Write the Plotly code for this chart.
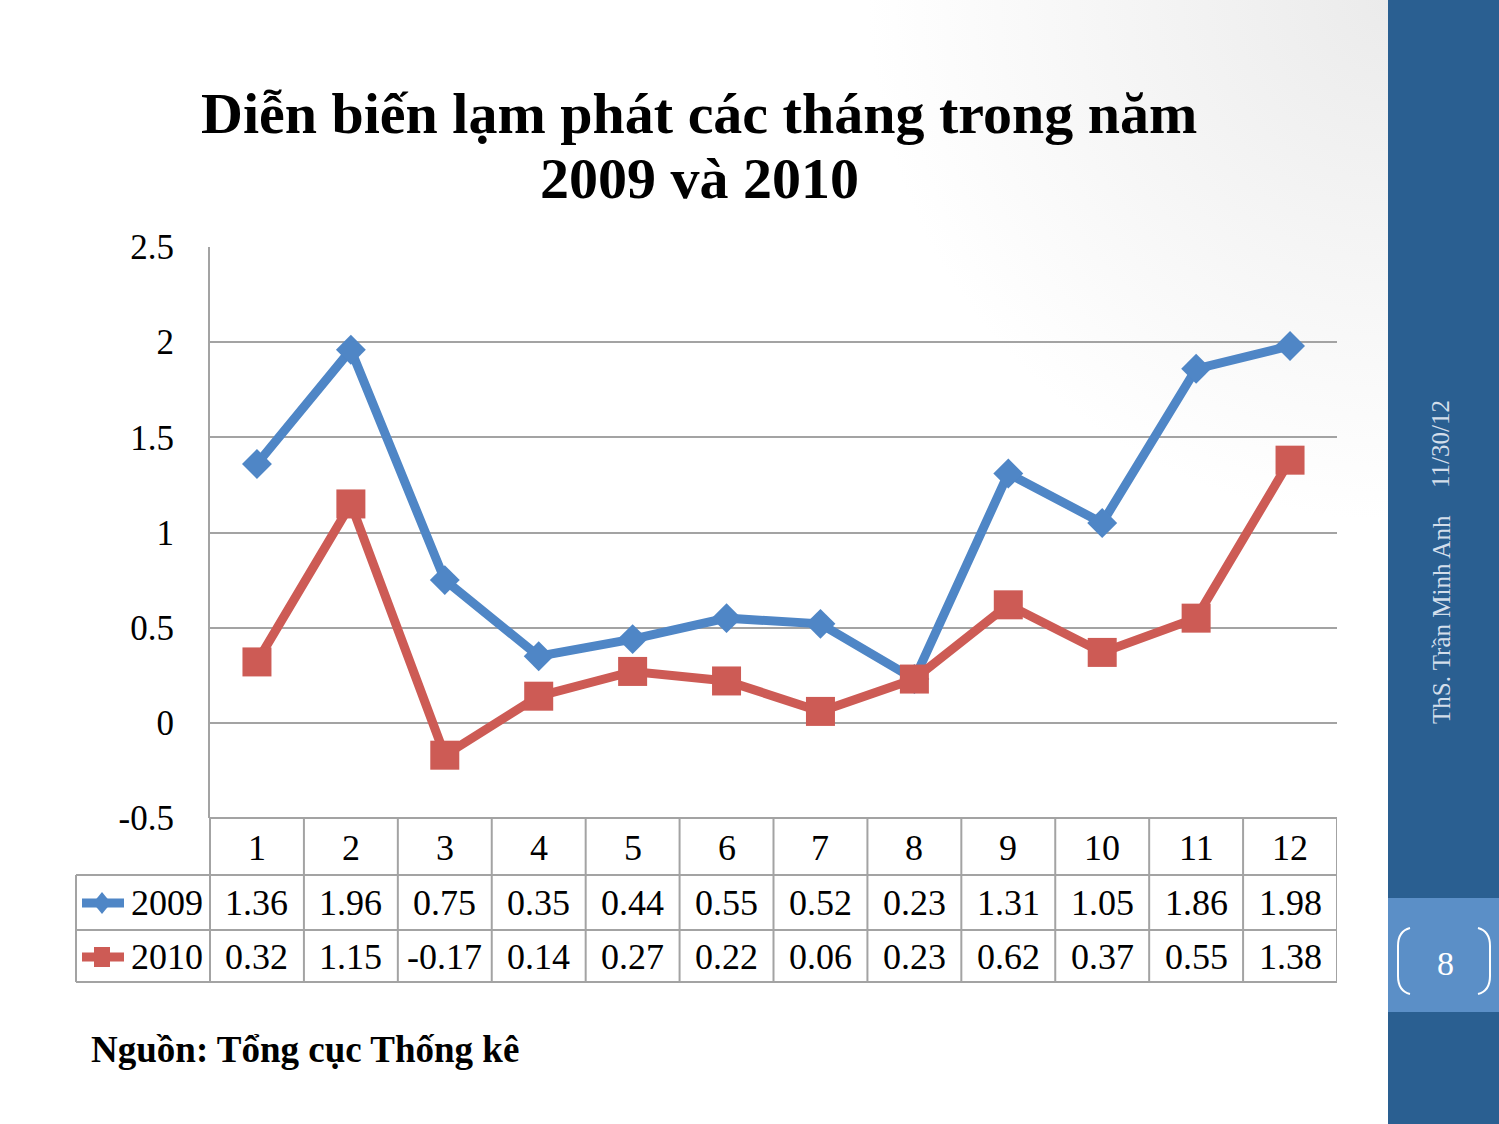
import base64
import plotly.graph_objects as go

W, H = 1499, 1124

months = [1, 2, 3, 4, 5, 6, 7, 8, 9, 10, 11, 12]
month_labels = ["1", "2", "3", "4", "5", "6", "7", "8", "9", "10", "11", "12"]
series_names = ["2009", "2010"]
v2009 = [1.36, 1.96, 0.75, 0.35, 0.44, 0.55, 0.52, 0.23, 1.31, 1.05, 1.86, 1.98]
v2010 = [0.32, 1.15, -0.17, 0.14, 0.27, 0.22, 0.06, 0.23, 0.62, 0.37, 0.55, 1.38]
y_ticks = [2.5, 2, 1.5, 1, 0.5, 0, -0.5]
y_tick_labels = ["2.5", "2", "1.5", "1", "0.5", "0", "-0.5"]

title_line1 = "<b>Diễn biến lạm phát các tháng trong năm</b>"
title_line2 = "<b>2009 và 2010</b>"
source_text = "<b>Nguồn: Tổng cục Thống kê</b>"
author_text = "ThS. Trần Minh Anh"
date_text = "11/30/12"
page_text = "8"

BLUE = "#4F86C6"
RED = "#CD5B55"
GRID = "#A3A3A3"
SERIF = "Liberation Serif, Times New Roman, serif"
SIDEBAR = "#2A5F91"
SIDEBAR_LIGHT = "#5B8FC7"


def px(x):
    return x / W


def py(y):
    return 1 - y / H


# plot area in pixels
PL, PR, PT, PB = 210, 1337, 247, 818
ROW_H = [818, 875, 930, 982]
TABLE_L = 76

# subtle slide background gradient (light grey toward the top right)
svg = (
    f'<svg xmlns="http://www.w3.org/2000/svg" width="{W}" height="{H}">'
    '<defs><radialGradient id="g" gradientUnits="userSpaceOnUse" cx="1388" cy="0" r="520">'
    '<stop offset="0" stop-color="#ebebeb"/><stop offset="1" stop-color="#ffffff"/>'
    '</radialGradient></defs>'
    f'<rect width="{W}" height="{H}" fill="url(#g)"/></svg>'
)
bg_src = "data:image/svg+xml;base64," + base64.b64encode(svg.encode()).decode()

fig = go.Figure()

fig.add_trace(go.Scatter(
    x=months, y=v2009, name=series_names[0], mode="lines+markers",
    line=dict(color=BLUE, width=9),
    marker=dict(symbol="diamond", size=23, color=BLUE),
))
fig.add_trace(go.Scatter(
    x=months, y=v2010, name=series_names[1], mode="lines+markers",
    line=dict(color=RED, width=9),
    marker=dict(symbol="square", size=29, color=RED),
))

shapes = []
annotations = []

# sidebar
shapes.append(dict(type="rect", xref="paper", yref="paper", x0=px(1388), x1=1, y0=0, y1=1,
                   fillcolor=SIDEBAR, line=dict(width=0), layer="below"))
shapes.append(dict(type="rect", xref="paper", yref="paper", x0=px(1388), x1=1, y0=py(1012), y1=py(898),
                   fillcolor=SIDEBAR_LIGHT, line=dict(width=0), layer="below"))
# page brackets
for path in [
    f"M {px(1410)} {py(928)} Q {px(1398)} {py(931)} {px(1398)} {py(946)} L {px(1398)} {py(976)} Q {px(1398)} {py(991)} {px(1410)} {py(994)}",
    f"M {px(1478)} {py(928)} Q {px(1490)} {py(931)} {px(1490)} {py(946)} L {px(1490)} {py(976)} Q {px(1490)} {py(991)} {px(1478)} {py(994)}",
]:
    shapes.append(dict(type="path", xref="paper", yref="paper", path=path,
                       line=dict(color="white", width=2)))

# table grid lines
lw = dict(color=GRID, width=2)
shapes.append(dict(type="line", xref="paper", yref="paper", x0=px(PL), x1=px(PR), y0=py(ROW_H[0]), y1=py(ROW_H[0]), line=lw))
for yy in ROW_H[1:]:
    shapes.append(dict(type="line", xref="paper", yref="paper", x0=px(TABLE_L), x1=px(PR), y0=py(yy), y1=py(yy), line=lw))
shapes.append(dict(type="line", xref="paper", yref="paper", x0=px(TABLE_L), x1=px(TABLE_L), y0=py(ROW_H[1]), y1=py(ROW_H[3]), line=lw))
shapes.append(dict(type="line", xref="paper", yref="paper", x0=px(PL), x1=px(PL), y0=py(ROW_H[0]), y1=py(ROW_H[3]), line=lw))
for m in months:
    shapes.append(dict(type="line", xref="x", yref="paper", x0=m + 0.5, x1=m + 0.5, y0=py(ROW_H[0]), y1=py(ROW_H[3]), line=lw))

# legend keys in table
key_rows = [(903, BLUE, "diamond"), (957, RED, "square")]
for yc, col, kind in key_rows:
    shapes.append(dict(type="line", xref="paper", yref="paper", x0=px(82), x1=px(124), y0=py(yc), y1=py(yc),
                       line=dict(color=col, width=9)))
    if kind == "diamond":
        path = f"M {px(102)} {py(yc-11)} L {px(111)} {py(yc)} L {px(102)} {py(yc+11)} L {px(93)} {py(yc)} Z"
    else:
        path = f"M {px(94)} {py(yc-10)} L {px(110)} {py(yc-10)} L {px(110)} {py(yc+10)} L {px(94)} {py(yc+10)} Z"
    shapes.append(dict(type="path", xref="paper", yref="paper", path=path, fillcolor=col, line=dict(width=0)))

tfont = dict(family=SERIF, size=36, color="black")
row_centers = [848, 903, 957]
for m, lab in zip(months, month_labels):
    annotations.append(dict(x=m, y=py(row_centers[0]), xref="x", yref="paper", text=lab, showarrow=False,
                            font=tfont, xanchor="center", yanchor="middle"))
for vals, yc in [(v2009, row_centers[1]), (v2010, row_centers[2])]:
    for m, v in zip(months, vals):
        annotations.append(dict(x=m, y=py(yc), xref="x", yref="paper", text=f"{v:.2f}", showarrow=False,
                                font=tfont, xanchor="center", yanchor="middle"))
for name, yc in zip(series_names, row_centers[1:]):
    annotations.append(dict(x=px(205), y=py(yc), xref="paper", yref="paper", text=name, showarrow=False,
                            font=tfont, xanchor="right", yanchor="middle"))

# title
tf = dict(family=SERIF, size=58, color="black")
annotations.append(dict(x=px(699), y=py(113), xref="paper", yref="paper", text=title_line1, showarrow=False,
                        font=tf, xanchor="center", yanchor="middle"))
annotations.append(dict(x=px(699), y=py(178), xref="paper", yref="paper", text=title_line2, showarrow=False,
                        font=tf, xanchor="center", yanchor="middle"))
# source
annotations.append(dict(x=px(89), y=py(1049), xref="paper", yref="paper", text=source_text, showarrow=False,
                        font=dict(family=SERIF, size=37, color="black"), xanchor="left", yanchor="middle"))
# sidebar texts
sfont = dict(family=SERIF, size=25, color="#D3DEEB")
annotations.append(dict(x=px(1441), y=py(620), xref="paper", yref="paper", text=author_text, showarrow=False,
                        textangle=-90, font=sfont, xanchor="center", yanchor="middle"))
annotations.append(dict(x=px(1441), y=py(444), xref="paper", yref="paper", text=date_text, showarrow=False,
                        textangle=-90, font=sfont, xanchor="center", yanchor="middle"))
annotations.append(dict(x=px(1445), y=py(963), xref="paper", yref="paper", text=page_text, showarrow=False,
                        font=dict(family=SERIF, size=34, color="white"), xanchor="center", yanchor="middle"))

fig.update_layout(
    width=W, height=H,
    autosize=False,
    margin=dict(l=0, r=0, t=0, b=0, pad=0, autoexpand=False),
    paper_bgcolor="white", plot_bgcolor="rgba(0,0,0,0)",
    showlegend=False,
    images=[dict(source=bg_src, xref="paper", yref="paper", x=0, y=1, sizex=1, sizey=1,
                 xanchor="left", yanchor="top", sizing="stretch", layer="below")],
    xaxis=dict(domain=[px(PL), px(PR)], range=[0.5, 12.5], showgrid=False, zeroline=False,
               showticklabels=False, ticks="", showline=False, automargin=False),
    yaxis=dict(domain=[py(PB), py(PT)], range=[-0.5, 2.5], tickvals=y_ticks, ticktext=y_tick_labels,
               showgrid=True, gridcolor=GRID, gridwidth=2, zeroline=False,
               showline=True, linecolor=GRID, linewidth=2, automargin=False,
               tickfont=dict(family=SERIF, size=35, color="black"), ticks="", ticklabelstandoff=27),
    shapes=shapes,
    annotations=annotations,
)

fig.write_html("out.html")
